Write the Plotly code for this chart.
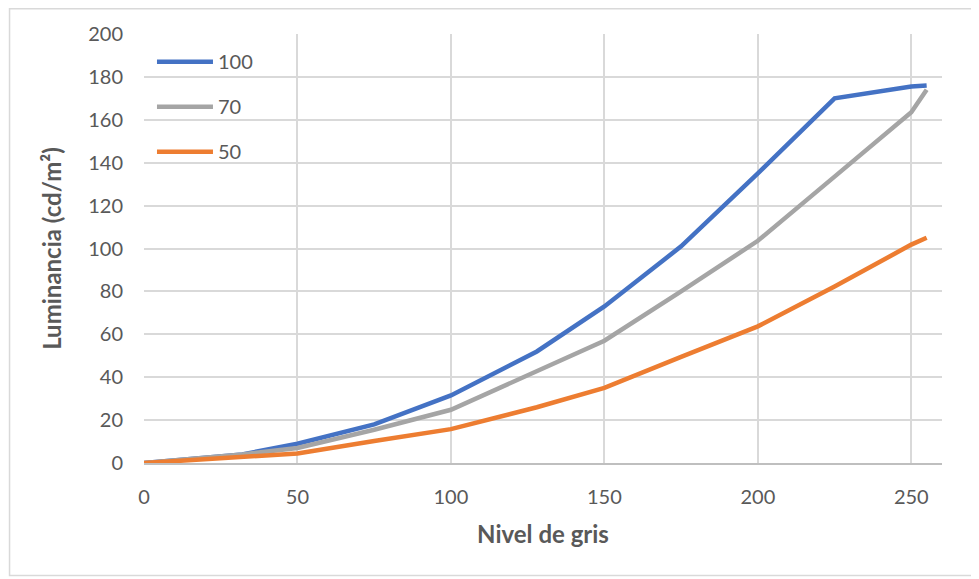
import plotly.graph_objects as go

gray_levels = [0, 32, 50, 75, 100, 128, 150, 175, 200, 225, 250, 255]
lum_100 = [0, 4, 9, 18, 31.5, 52, 73, 101, 135, 170, 175.5, 176]
lum_70 = [0, 4, 7, 15.5, 24.8, 43, 57, 80, 103.6, 133.5, 163.5, 174]
lum_50 = [0, 3, 4.4, 10.3, 15.8, 26, 35, 49.5, 63.7, 82.3, 101.8, 105]

series = [("100", lum_100, "#4472C4"), ("70", lum_70, "#A5A5A5"), ("50", lum_50, "#ED7D31")]

fig = go.Figure()
for i, (name, vals, col) in enumerate(series):
    fig.add_trace(go.Scatter(x=gray_levels, y=vals, mode="lines", name=name,
                             legendgroup=name,
                             line=dict(color=col, width=4.5)))

font_family = "Lato, 'Open Sans', sans-serif"
fig.update_layout(
    width=979, height=579,
    margin=dict(l=135.5, r=45.3, t=26.3, b=123.7),
    paper_bgcolor="white", plot_bgcolor="white",
    font=dict(family=font_family, size=20, color="#595959"),
    legend=dict(x=0.01, y=0.981, xanchor="left", yanchor="top",
                bgcolor="rgba(255,255,255,0)", tracegroupgap=16,
                font=dict(size=20, color="#595959"),
                itemwidth=56),
    showlegend=True,
    xaxis=dict(range=[0, 260], tickvals=[0, 50, 100, 150, 200, 250],
               showgrid=True, gridcolor="#D9D9D9", gridwidth=1.5,
               zeroline=False, showline=True, linecolor="#BFBFBF", linewidth=1.5,
               ticks="", ticklabelstandoff=15, automargin=False,
               tickfont=dict(size=20, color="#595959"),
               title=dict(text="<b>Nivel de gris</b>", font=dict(size=24, color="#595959"), standoff=19)),
    yaxis=dict(range=[0, 200], tickvals=list(range(0, 201, 20)),
               showgrid=True, gridcolor="#D9D9D9", gridwidth=1.5,
               zeroline=False, showline=False, automargin=False,
               ticks="", ticklabelstandoff=20,
               tickfont=dict(size=20, color="#595959"),
               title=dict(text="<b>Luminancia (cd/m²)</b>", font=dict(size=24, color="#595959"), standoff=19)),
)

fig.add_shape(type="rect", xref="paper", yref="paper",
              x0=-0.1685, x1=1.0417, y0=-0.262, y1=1.059,
              line=dict(color="#D9D9D9", width=1.5), layer="below")

fig.write_html("out.html")
